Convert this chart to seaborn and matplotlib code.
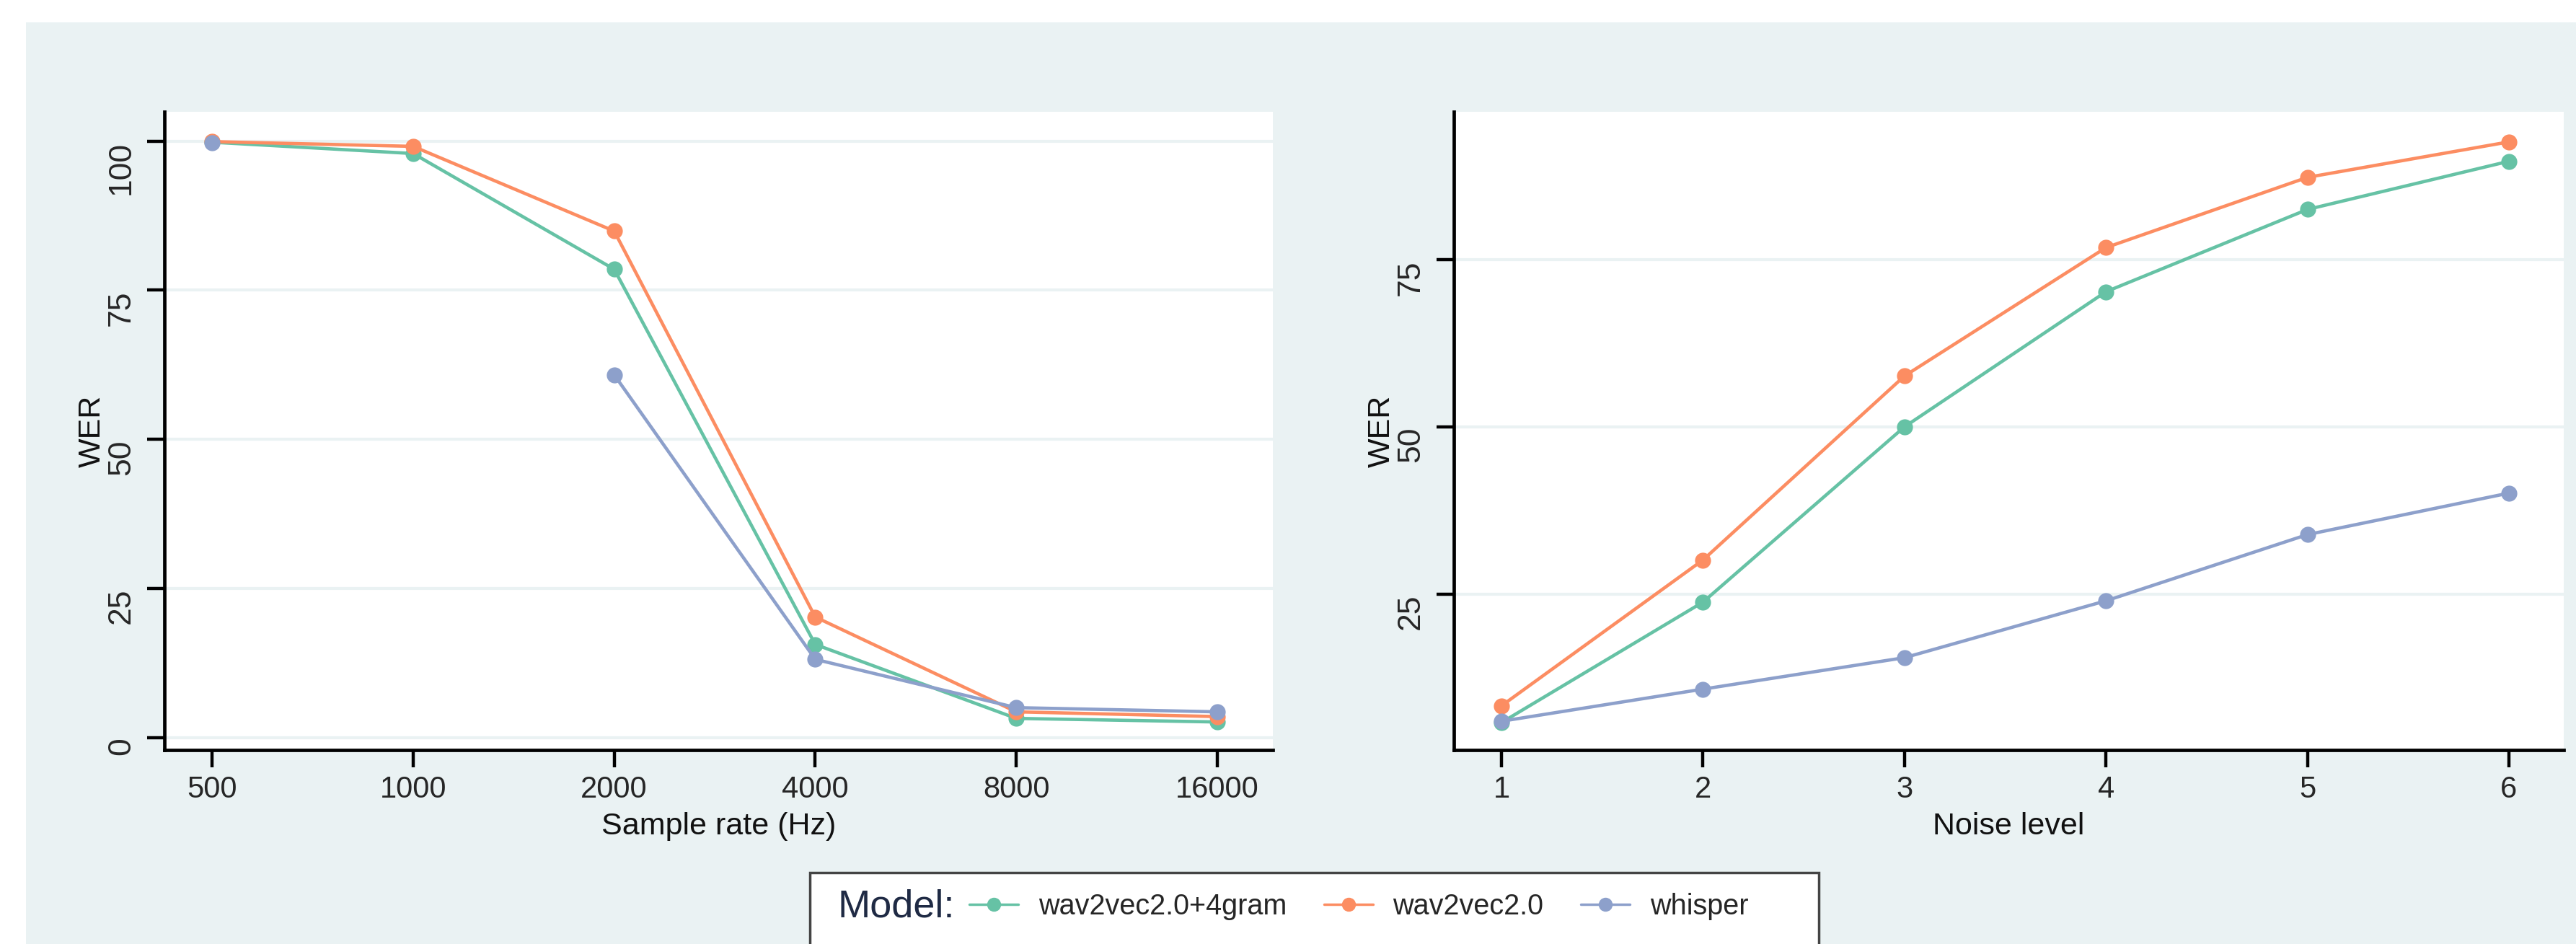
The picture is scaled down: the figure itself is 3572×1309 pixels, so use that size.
import numpy as np
import pandas as pd
import matplotlib
matplotlib.use("Agg")
import matplotlib.pyplot as plt
from matplotlib.patches import Rectangle
from matplotlib.lines import Line2D
import seaborn as sns

# values (WER, %)
models = ["wav2vec2.0+4gram", "wav2vec2.0", "whisper"]
colors = ["#66c2a5", "#fc8d62", "#8da0cb"]

sample_rates = [500, 1000, 2000, 4000, 8000, 16000]
sr_4gram = [99.8, 97.9, 78.5, 15.6, 3.2, 2.6]
sr_w2v = [99.9, 99.1, 84.9, 20.2, 4.3, 3.5]
sr_whisper = [99.7, np.nan, 60.8, 13.1, 5.0, 4.3]

noise_levels = [1, 2, 3, 4, 5, 6]
nl_4gram = [5.8, 23.8, 50.0, 70.2, 82.5, 89.7]
nl_w2v = [8.3, 30.1, 57.6, 76.8, 87.3, 92.6]
nl_whisper = [6.0, 10.8, 15.5, 24.0, 33.9, 40.1]

bg = "#eaf2f3"


def long_df(xs, series):
    rows = []
    for name, vals in zip(models, series):
        seg = 0
        for x, v in zip(xs, vals):
            if np.isnan(v):
                seg += 1  # break the line at a missing value
                continue
            rows.append({"x": x, "wer": v, "model": name, "seg": seg})
    return pd.DataFrame(rows)


sns.set_theme(style="white")
plt.rcParams["font.family"] = ["Liberation Sans", "DejaVu Sans"]

df_sr = long_df(list(range(len(sample_rates))), [sr_4gram, sr_w2v, sr_whisper])
df_nl = long_df(noise_levels, [nl_4gram, nl_w2v, nl_whisper])

fig = plt.figure(figsize=(35.72, 13.09), dpi=100, facecolor="white")
fig.add_artist(Rectangle((36 / 3572, 0), 1, 1 - 31 / 1309, transform=fig.transFigure,
                         facecolor=bg, edgecolor="none", zorder=-1))

ax1 = fig.add_axes([228 / 3572, 1 - 1040 / 1309, 1537 / 3572, 885 / 1309])
ax2 = fig.add_axes([2016 / 3572, 1 - 1040 / 1309, 1539 / 3572, 885 / 1309])

for ax, df in [(ax1, df_sr), (ax2, df_nl)]:
    ax.set_facecolor("white")
    sns.lineplot(data=df, x="x", y="wer", hue="model", units="seg", estimator=None,
                 hue_order=models, palette=colors, marker="o", markersize=16,
                 markeredgewidth=0, linewidth=3.3, sort=False, legend=False, ax=ax)
    for s in ["top", "right"]:
        ax.spines[s].set_visible(False)
    for s in ["left", "bottom"]:
        ax.spines[s].set_color("black")
        ax.spines[s].set_linewidth(3.4)
    ax.tick_params(axis="both", length=17, width=3.2, color="black", left=True, bottom=True)
    ax.tick_params(axis="y", pad=11)
    ax.tick_params(axis="x", pad=8)
    ax.yaxis.grid(True, color=bg, linewidth=3)
    ax.xaxis.grid(False)
    ax.set_axisbelow(True)
    ax.set_ylabel("WER", fontsize=31, labelpad=0, color="#111111")

ax1.set_xlim(-0.237, 5.276)
ax1.set_ylim(-2.1, 104.9)
ax1.set_xticks(range(len(sample_rates)))
ax1.set_xticklabels([str(s) for s in sample_rates])
ax1.set_yticks([0, 25, 50, 75, 100])
ax1.set_xlabel("Sample rate (Hz)", fontsize=31, labelpad=8, color="#111111")

ax2.set_xlim(0.764, 6.272)
ax2.set_ylim(1.7, 97.1)
ax2.set_xticks(noise_levels)
ax2.set_xticklabels([str(n) for n in noise_levels])
ax2.set_yticks([25, 50, 75])
ax2.set_xlabel("Noise level", fontsize=31, labelpad=8, color="#111111")

for ax in (ax1, ax2):
    for lab in ax.get_yticklabels():
        lab.set_rotation(90)
        lab.set_va("top")
        lab.set_fontsize(32)
    for lab in ax.get_xticklabels():
        lab.set_fontsize(30)

# legend box at the bottom, cut by the figure edge
fig.add_artist(Rectangle((1123 / 3572, -0.02), 1399 / 3572, (1309 - 1210) / 1309 + 0.02,
                         transform=fig.transFigure, facecolor="white",
                         edgecolor="#444444", linewidth=2.5, zorder=1))
fig.text(1162 / 3572, 1 - 1257 / 1309, "Model:", fontsize=39, color="#1f2a44",
         ha="left", va="center", zorder=5)
handles = [Line2D([], [], color=c, marker="o", markersize=14, markeredgewidth=0, linewidth=2.5)
           for c in colors]
fig.legend(handles, models, loc="center left", bbox_to_anchor=(1344 / 3572, 1 - 1257 / 1309),
           ncol=3, frameon=False, borderpad=0, borderaxespad=0,
           handlelength=1.72, handletextpad=0.7, columnspacing=1.3,
           prop={"size": 28.5})

fig.savefig("out.png", dpi=100, facecolor=fig.get_facecolor())
